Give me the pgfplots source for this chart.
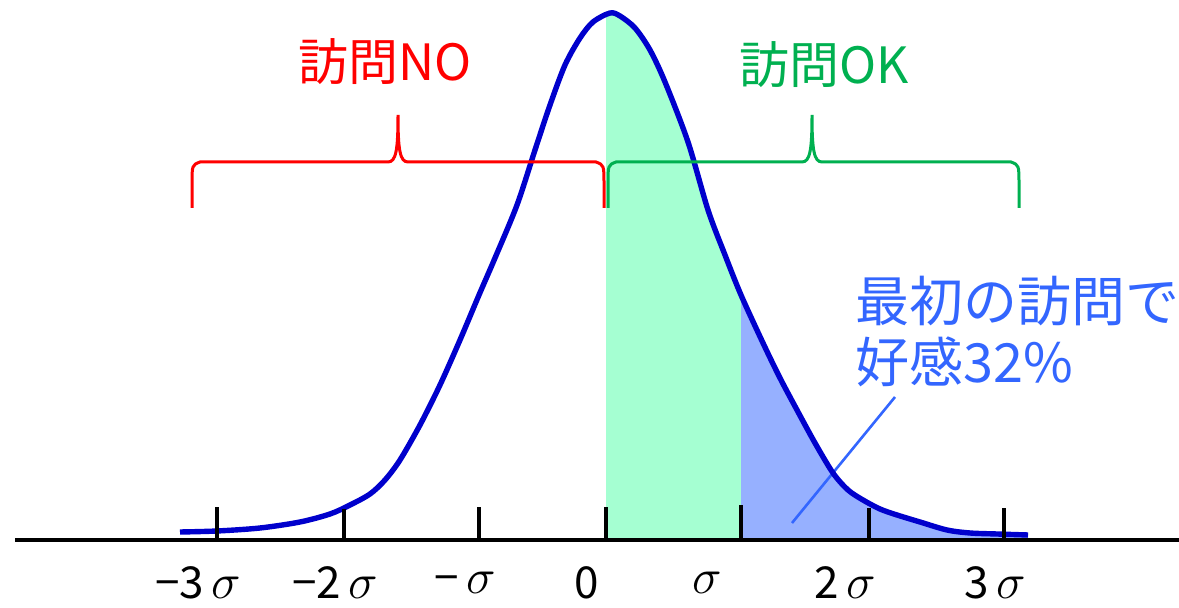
\documentclass[border=0pt]{standalone}
\usepackage{pgfplots}
\pgfplotsset{compat=1.18}
\usepackage{fontspec}
\setmainfont{Noto Sans CJK JP}

\definecolor{curveblue}{RGB}{0,0,204}
\definecolor{okgreen}{RGB}{0,176,80}
\definecolor{fillgreen}{RGB}{165,255,210}
\definecolor{fillblue}{RGB}{150,176,255}
\definecolor{notecol}{RGB}{51,102,255}
\newcommand{\sig}{{\fontsize{29pt}{30pt}\selectfont$\sigma$}}

\begin{document}
\begin{tikzpicture}
\begin{axis}[
  width=589.5pt, height=304pt, scale only axis,
  xmin=0, xmax=1179, ymin=0, ymax=608,
  y dir=reverse,
  axis lines=none,
  clip=false,
]
% shaded areas
\addplot[fill=fillgreen, draw=none] coordinates {
  (606,538) (606,13) (610,13) (620,16) (635,28) (650,50) (665,82) (688,142)
  (708,210) (725,255) (741,295) (741,538)} -- cycle;
\addplot[fill=fillblue, draw=none] coordinates {
  (741,538) (741,295) (763,343) (780,378) (797,410) (815,443) (833,473)
  (848,490) (863,500) (880,509) (897,515) (920,522) (947,530) (970,533)
  (997,534) (1028,535) (1028,538)} -- cycle;

% pointer
\addplot[notecol, line width=1.3pt] coordinates {(895,397) (792,523)};

% curve
\addplot[curveblue, line width=2.7pt, smooth] coordinates {
  (180,532) (217,531) (260,528) (300,522) (330,514) (350,505) (370,494)
  (385,480) (400,460) (420,425) (440,385) (460,340) (479,295) (495,258)
  (517,205) (535,150) (550,105) (565,65) (580,38) (593,22) (610,13)
  (620,16) (635,28) (650,50) (665,82) (688,142) (708,210) (725,255)
  (741,295) (763,343) (780,378) (797,410) (815,443) (833,473) (848,490)
  (863,500) (880,509) (897,515) (920,522) (947,530) (970,533) (997,534)
  (1028,535)};

% axis line and ticks
\addplot[black, line width=2pt] coordinates {(15,540) (1179,540)};
\addplot[black, line width=1.6pt] coordinates {(217,540) (217,507)};
\addplot[black, line width=1.6pt] coordinates {(344,540) (344,509)};
\addplot[black, line width=1.6pt] coordinates {(479,540) (479,507)};
\addplot[black, line width=1.6pt] coordinates {(606,540) (606,507)};
\addplot[black, line width=1.6pt] coordinates {(741,540) (741,505)};
\addplot[black, line width=1.6pt] coordinates {(869,540) (869,508)};
\addplot[black, line width=1.6pt] coordinates {(1004,540) (1004,508)};

% braces
\draw[red, line width=1.5pt] (axis cs:192,208) -- (axis cs:192,185)
  .. controls (axis cs:192,165) .. (axis cs:200,162) -- (axis cs:388,162)
  .. controls (axis cs:396,162) and (axis cs:398,150) .. (axis cs:398,115)
  .. controls (axis cs:398,150) and (axis cs:400,162) .. (axis cs:408,162)
  -- (axis cs:596,162) .. controls (axis cs:604,165) .. (axis cs:604,185)
  -- (axis cs:604,208);
\draw[okgreen, line width=1.5pt] (axis cs:608,208) -- (axis cs:608,185)
  .. controls (axis cs:608,165) .. (axis cs:616,162) -- (axis cs:802,162)
  .. controls (axis cs:810,162) and (axis cs:812,150) .. (axis cs:812,115)
  .. controls (axis cs:812,150) and (axis cs:814,162) .. (axis cs:822,162)
  -- (axis cs:1011,162) .. controls (axis cs:1019,165) .. (axis cs:1019,185)
  -- (axis cs:1019,208);

% titles
\node[red, font=\fontsize{25pt}{28pt}\selectfont] at (axis cs:385,62) {訪問NO};
\node[okgreen, font=\fontsize{25pt}{28pt}\selectfont] at (axis cs:824,65) {訪問OK};
\node[notecol, anchor=west, font=\fontsize{27pt}{30pt}\selectfont, inner sep=0pt] at (axis cs:855,301) {最初の訪問で};
\node[notecol, anchor=west, font=\fontsize{27pt}{30pt}\selectfont, inner sep=0pt] at (axis cs:855,362) {好感32\%};

% tick labels
\begin{scope}[font=\fontsize{22pt}{24pt}\selectfont]
\node at (axis cs:198,583) {−3\,\sig};
\node at (axis cs:335,583) {−2\,\sig};
\node at (axis cs:465,583) {−\,\sig};
\node at (axis cs:587,583) {0};
\node at (axis cs:707,583) {\sig};
\node at (axis cs:845,583) {2\,\sig};
\node at (axis cs:995,583) {3\,\sig};
\end{scope}

\coordinate (bl) at (axis cs:0,608);
\coordinate (tr) at (axis cs:1179,0);
\end{axis}
\pgfresetboundingbox
\useasboundingbox (bl) rectangle (tr);
\end{tikzpicture}
\end{document}
